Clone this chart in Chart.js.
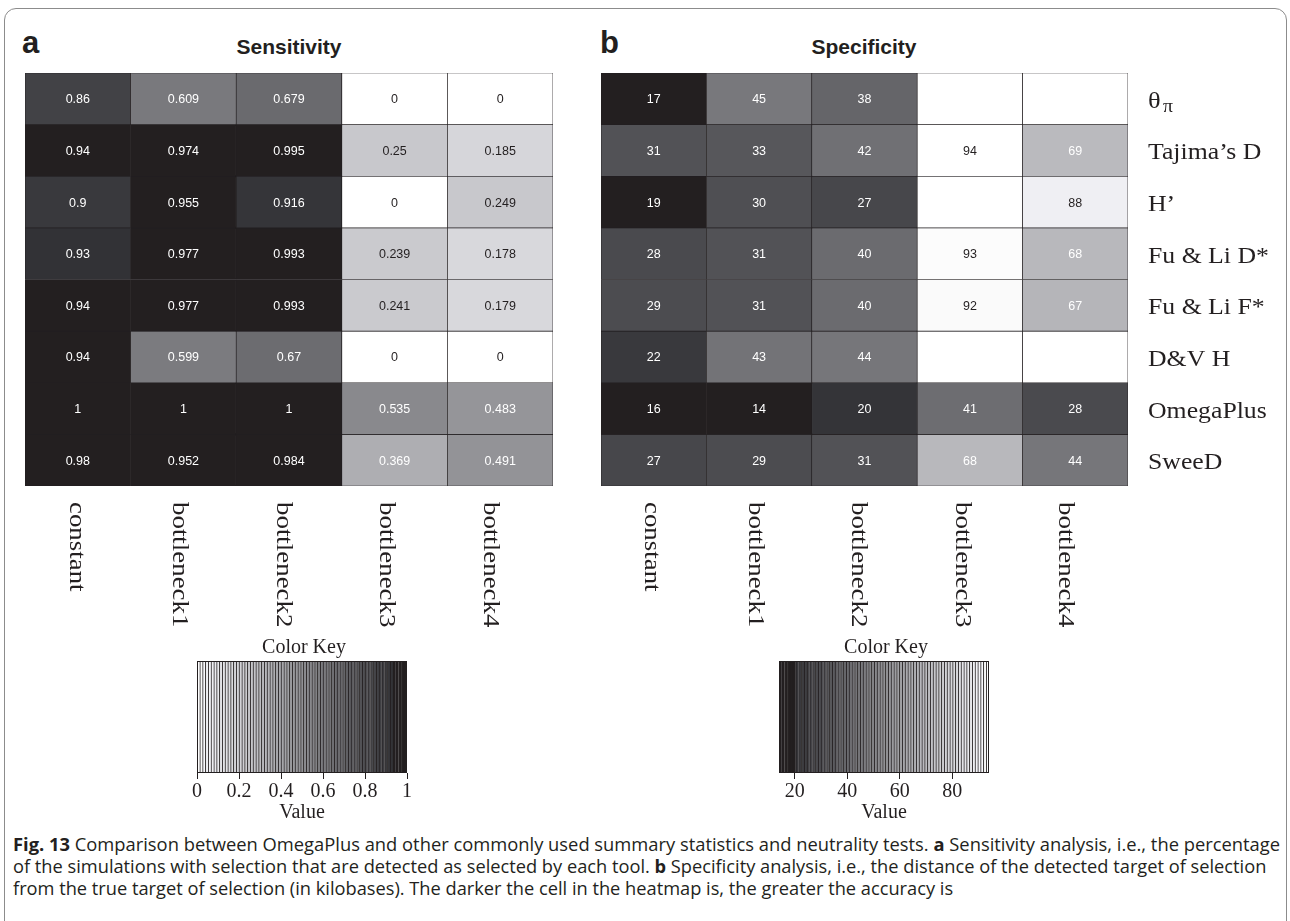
<!DOCTYPE html>
<html>
<head>
<meta charset="utf-8">
<script src="https://cdn.jsdelivr.net/npm/chart.js@4.4.1/dist/chart.umd.min.js"></script>
<style>
  html, body { margin: 0; padding: 0; background: #fff; }
  body { width: 1290px; height: 921px; position: relative; overflow: hidden; font-family: "Liberation Sans", Arial, sans-serif; color: #231f20; }
  .frame { position: absolute; left: 4px; top: 8px; width: 1283px; height: 960px; border: 1.5px solid #8c8c8c; border-radius: 12px; box-sizing: border-box; }
  .panel { position: absolute; font-weight: bold; font-size: 31px; line-height: 1; }
  .title { position: absolute; font-weight: bold; font-size: 21px; transform: translateX(-50%); white-space: nowrap; }
  .box { position: absolute; }
  .caption { position: absolute; left: 13px; top: 833px; font-family: "Open Sans", sans-serif; font-size: 18.5px; line-height: 22px; white-space: nowrap; }
  .caption div { transform-origin: 0 0; }
</style>
</head>
<body>
<div class="frame"></div>
<div class="panel" style="left:22px; top:27px;">a</div>
<div class="panel" style="left:600px; top:27px;">b</div>
<div class="title" style="left:289px; top:35px;">Sensitivity</div>
<div class="title" style="left:864px; top:35px;">Specificity</div>

<div class="box" style="left:0px; top:60px; width:590px; height:600px;"><canvas id="sens" width="590" height="600"></canvas></div>
<div class="box" style="left:590px; top:60px; width:700px; height:600px;"><canvas id="spec" width="700" height="600"></canvas></div>
<div class="box" style="left:150px; top:620px; width:300px; height:205px;"><canvas id="keyA" width="300" height="205"></canvas></div>
<div class="box" style="left:740px; top:620px; width:300px; height:205px;"><canvas id="keyB" width="300" height="205"></canvas></div>

<div class="caption">
  <div><b>Fig. 13</b> Comparison between OmegaPlus and other commonly used summary statistics and neutrality tests. <b>a</b> Sensitivity analysis, i.e., the percentage</div>
  <div>of the simulations with selection that are detected as selected by each tool. <b>b</b> Specificity analysis, i.e., the distance of the detected target of selection</div>
  <div>from the true target of selection (in kilobases). The darker the cell in the heatmap is, the greater the accuracy is</div>
</div>

<script>
// columnas y filas del heatmap
const columns = ['constant', 'bottleneck1', 'bottleneck2', 'bottleneck3', 'bottleneck4'];
const statistics = ['θπ', 'Tajima’s D', 'H’', 'Fu & Li D*', 'Fu & Li F*', 'D&V H', 'OmegaPlus', 'SweeD'];

// Sensitivity (a)
const sensitivity = [
    [0.86, 0.609, 0.679, 0, 0],
    [0.94, 0.974, 0.995, 0.25, 0.185],
    [0.9, 0.955, 0.916, 0, 0.249],
    [0.93, 0.977, 0.993, 0.239, 0.178],
    [0.94, 0.977, 0.993, 0.241, 0.179],
    [0.94, 0.599, 0.67, 0, 0],
    [1, 1, 1, 0.535, 0.483],
    [0.98, 0.952, 0.984, 0.369, 0.491]
];

// Specificity (b), null = celda vacía
const specificity = [
    [17, 45, 38, null, null],
    [31, 33, 42, 94, 69],
    [19, 30, 27, null, 88],
    [28, 31, 40, 93, 68],
    [29, 31, 40, 92, 67],
    [22, 43, 44, null, null],
    [16, 14, 20, 41, 28],
    [27, 29, 31, 68, 44]
];

// ticks de las leyendas de color
const keyTicksA = [0, 0.2, 0.4, 0.6, 0.8, 1];
const keyTicksB = [20, 40, 60, 80];
const keyRangeA = [0, 1];
const keyRangeB = [14, 94];

const ink = '#231f20';
const serif = '"Liberation Serif", "Times New Roman", serif';

function graySens(v) { return v >= 0.935 ? 35 : 255 - v * 220; }
function graySpec(v) { return v < 20 ? 35 : Math.min(255, 35 + (v - 14) * 2.75); }

function shade(g) {
    if (g <= 36) return ink;
    g = Math.round(g);
    const b = Math.min(255, g + (g < 250 ? 4 : 0));
    return 'rgb(' + g + ',' + g + ',' + b + ')';
}

function stretchedText(ctx, text, x, y, sx) {
    ctx.save();
    ctx.translate(x, y);
    ctx.scale(sx, 1);
    ctx.fillText(text, 0, 0);
    ctx.restore();
}

function heatmap(id, values, grayFn, pad, rowLabels) {
    const labelsPlugin = {
        id: 'labels_' + id,
        afterDatasetsDraw(chart) {
            const ctx = chart.ctx;
            const xs = chart.scales.x, ys = chart.scales.y;
            ctx.save();
            // valores en las celdas
            ctx.font = '12.5px "Liberation Sans", Arial, sans-serif';
            ctx.textAlign = 'center';
            ctx.textBaseline = 'middle';
            values.forEach((row, r) => {
                chart.getDatasetMeta(r).data.forEach((bar, c) => {
                    const v = row[c];
                    if (v == null) return;
                    ctx.fillStyle = grayFn(v) < 190 ? '#ffffff' : ink;
                    ctx.fillText(String(v), bar.x, (bar.y + bar.base) / 2 + 1);
                });
            });
            // etiquetas de columnas (giradas)
            ctx.fillStyle = ink;
            ctx.font = '24px ' + serif;
            ctx.textAlign = 'left';
            columns.forEach((name, c) => {
                const x = xs.getPixelForValue(c) - 2 - c * 2;
                ctx.save();
                ctx.translate(x, chart.chartArea.bottom + 16);
                ctx.rotate(Math.PI / 2);
                ctx.scale(1.12, 1);
                ctx.fillText(name, 0, 0);
                ctx.restore();
            });
            // etiquetas de filas
            if (rowLabels) {
                ctx.textBaseline = 'middle';
                statistics.forEach((name, r) => {
                    const y = ys.getPixelForValue(r + 0.5) + 3;
                    const x = chart.chartArea.right + 20;
                    if (name === 'θπ') {
                        ctx.font = '24px ' + serif;
                        stretchedText(ctx, 'θ', x, y, 1.1);
                        ctx.font = '18px ' + serif;
                        stretchedText(ctx, 'π', x + 15, y + 5, 1.1);
                    } else {
                        ctx.font = '23px ' + serif;
                        stretchedText(ctx, name, x, y, 1.12);
                    }
                });
            }
            ctx.restore();
        }
    };

    return new Chart(document.getElementById(id), {
        type: 'bar',
        data: {
            labels: columns,
            datasets: values.map((row, r) => ({
                data: row.map(() => [r, r + 1]),
                backgroundColor: row.map(v => v == null ? '#ffffff' : shade(grayFn(v))),
                borderColor: ink,
                borderWidth: 0.7,
                borderSkipped: false,
                grouped: false,
                barPercentage: 1,
                categoryPercentage: 1
            }))
        },
        options: {
            responsive: false,
            animation: false,
            events: [],
            layout: { padding: pad },
            plugins: {
                legend: { display: false },
                tooltip: { enabled: false }
            },
            scales: {
                x: { type: 'category', display: false },
                y: { type: 'linear', min: 0, max: values.length, reverse: true, display: false }
            }
        },
        plugins: [labelsPlugin]
    });
}

function colorKey(id, range, ticks, grayFn, pad) {
    const n = 75;
    const step = (range[1] - range[0]) / n;
    const bins = [];
    for (let i = 0; i < n; i++) bins.push(range[0] + (i + 0.5) * step);

    const keyPlugin = {
        id: 'key_' + id,
        afterDraw(chart) {
            const ctx = chart.ctx, a = chart.chartArea;
            ctx.save();
            ctx.strokeStyle = ink;
            ctx.lineWidth = 1;
            ctx.strokeRect(a.left + 0.5, a.top + 0.5, a.right - a.left - 1, a.bottom - a.top - 1);
            ctx.fillStyle = ink;
            ctx.font = '20px ' + serif;
            ctx.textAlign = 'center';
            ctx.textBaseline = 'alphabetic';
            ctx.fillText('Color Key', (a.left + a.right) / 2 + 2, a.top - 8);
            ctx.restore();
        }
    };

    return new Chart(document.getElementById(id), {
        type: 'bar',
        data: {
            datasets: [{
                data: bins.map(v => ({ x: v, y: 1 })),
                backgroundColor: bins.map(v => shade(grayFn(v))),
                borderColor: ink,
                borderWidth: { left: 1, right: 0, top: 0, bottom: 0 },
                borderSkipped: false,
                barPercentage: 1,
                categoryPercentage: 1
            }]
        },
        options: {
            responsive: false,
            animation: false,
            events: [],
            layout: { padding: pad },
            plugins: {
                legend: { display: false },
                tooltip: { enabled: false }
            },
            scales: {
                x: {
                    type: 'linear',
                    min: range[0],
                    max: range[1],
                    offset: false,
                    afterBuildTicks: scale => { scale.ticks = ticks.map(v => ({ value: v })); },
                    afterFit: scale => { scale.height = 52; },
                    grid: { display: true, drawOnChartArea: false, drawTicks: true, tickLength: 6, color: ink, offset: false },
                    border: { display: false },
                    ticks: { color: ink, font: { family: serif, size: 20 }, padding: 1, maxRotation: 0, callback: v => String(v) },
                    title: { display: true, text: 'Value', color: ink, font: { family: serif, size: 20 }, padding: 0 }
                },
                y: { min: 0, max: 1, display: false }
            }
        },
        plugins: [keyPlugin]
    });
}

heatmap('sens', sensitivity, graySens, { left: 25, right: 37, top: 13, bottom: 174 }, false);
heatmap('spec', specificity, graySpec, { left: 11, right: 162, top: 13, bottom: 174 }, true);
colorKey('keyA', keyRangeA, keyTicksA, graySens, { left: 47, right: 43, top: 41, bottom: 0 });
colorKey('keyB', keyRangeB, keyTicksB, graySpec, { left: 39, right: 51, top: 41, bottom: 0 });

// ajustar el ancho de cada línea del pie de figura
const targets = [1267, 1260, null];
const lines = document.querySelectorAll('.caption div');
let lastScale = 1;
lines.forEach((el, i) => {
    const w = el.scrollWidth;
    const s = targets[i] ? targets[i] / w : lastScale;
    el.style.transform = 'scaleX(' + s + ')';
    lastScale = s;
});
</script>
</body>
</html>
